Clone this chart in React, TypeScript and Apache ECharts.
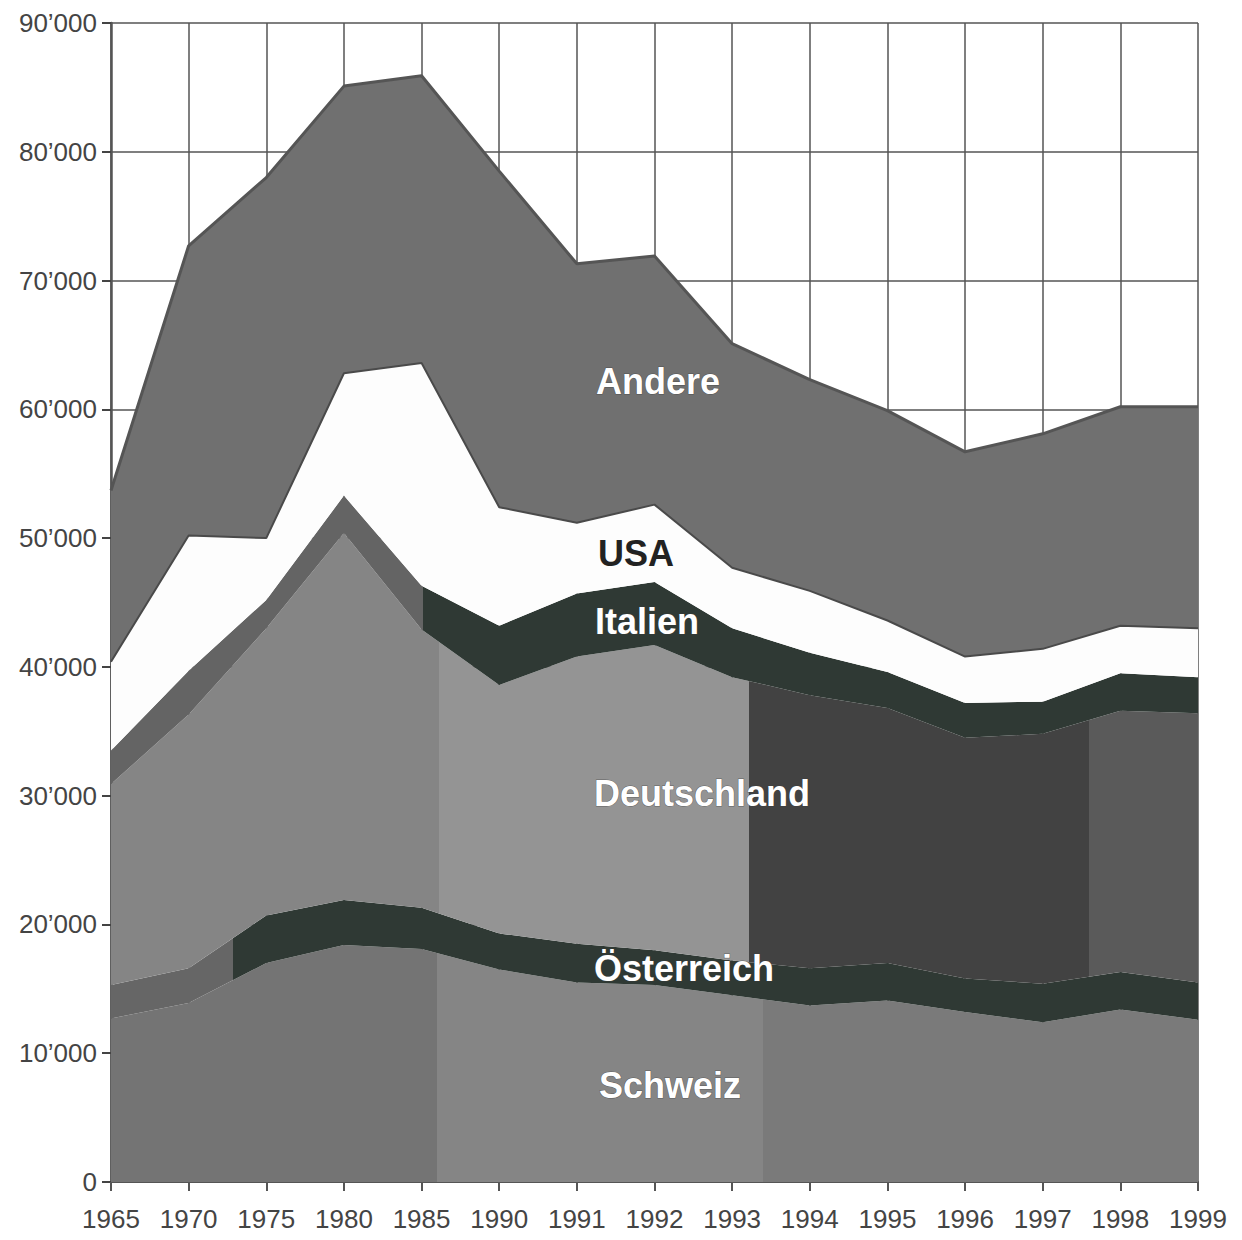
import React, { useEffect, useRef } from "react";
import * as echarts from "echarts";

const years = ["1965", "1970", "1975", "1980", "1985", "1990", "1991", "1992", "1993", "1994", "1995", "1996", "1997", "1998", "1999"];
const yTicks = [0, 10000, 20000, 30000, 40000, 50000, 60000, 70000, 80000, 90000];

const schweiz = [12700, 13900, 17000, 18400, 18100, 16500, 15500, 15300, 14500, 13700, 14100, 13200, 12400, 13400, 12600];
const oesterreich = [2600, 2700, 3700, 3500, 3200, 2800, 3000, 2700, 2700, 2900, 2900, 2600, 3000, 2900, 2900];
const deutschland = [15600, 19700, 22300, 28500, 21600, 19300, 22300, 23700, 22000, 21200, 19800, 18700, 19400, 20300, 20900];
const italien = [2600, 3400, 2200, 2900, 3400, 4600, 4900, 4900, 3800, 3300, 2800, 2700, 2500, 2900, 2800];
const usa = [6900, 10500, 4800, 9500, 17300, 9200, 5500, 6000, 4700, 4800, 4000, 3600, 4100, 3700, 3800];
const andere = [13300, 22500, 28000, 22300, 22300, 26100, 20100, 19300, 17400, 16400, 16300, 15900, 16700, 17000, 17200];

const fmt = (v: number) => {
  if (v === 0) return "0";
  const t = Math.floor(v / 1000);
  return `${t}\u2019000`;
};

function hardGradient(stops: [number, string][]) {
  const cs: { offset: number; color: string }[] = [];
  for (let i = 0; i < stops.length; i++) {
    const [off, col] = stops[i];
    const next = i + 1 < stops.length ? stops[i + 1][0] : 1;
    cs.push({ offset: off, color: col });
    cs.push({ offset: next, color: col });
  }
  return new echarts.graphic.LinearGradient(0, 0, 1, 0, cs);
}

export default function App() {
  const ref = useRef<HTMLDivElement>(null);
  useEffect(() => {
    if (!ref.current) return;
    const chart = echarts.init(ref.current, undefined, { renderer: "svg" });
    const font = '"Liberation Sans", Arial, Helvetica, sans-serif';
    const area = (name: string, data: number[], color: any, line?: any) => ({
      name,
      type: "line",
      stack: "total",
      data,
      symbol: "none",
      smooth: false,
      lineStyle: line || { width: 0 },
      areaStyle: { color, opacity: 1 },
      itemStyle: { color: "#666" },
      z: 2,
    });
    const labelStyle = (text: string, x: number, y: number, fill: string) => ({
      type: "text",
      x,
      y,
      z: 100,
      style: {
        text,
        fill,
        font: `bold 36px ${font}`,
        textAlign: "center",
        textVerticalAlign: "middle",
        align: "center",
        verticalAlign: "middle",
        stroke: fill === "#ffffff" ? "rgba(60,60,60,0.6)" : undefined,
        lineWidth: fill === "#ffffff" ? 1 : 0,
      },
    });
    chart.setOption({
      animation: false,
      backgroundColor: "#ffffff",
      grid: { left: 111, right: 44, top: 23, bottom: 58, containLabel: false },
      xAxis: {
        type: "category",
        data: years,
        boundaryGap: false,
        axisLine: { show: true, lineStyle: { color: "#555", width: 2 } },
        axisTick: { show: true, length: 9, lineStyle: { color: "#555", width: 2 } },
        axisLabel: { color: "#444", fontSize: 26, fontFamily: font, margin: 24, interval: 0 },
        splitLine: { show: true, lineStyle: { color: "#555", width: 1.5 } },
      },
      yAxis: {
        type: "value",
        min: 0,
        max: 90000,
        interval: 10000,
        axisLine: { show: true, lineStyle: { color: "#555", width: 2.5 } },
        axisTick: { show: true, length: 9, lineStyle: { color: "#444", width: 2 } },
        axisLabel: { color: "#444", fontSize: 26, fontFamily: font, margin: 14, formatter: (v: number) => (yTicks.includes(v) ? fmt(v) : "") },
        splitLine: { show: true, lineStyle: { color: "#555", width: 1.5 } },
      },
      series: [
        area("Schweiz", schweiz, hardGradient([[0, "#747474"], [0.3, "#858585"], [0.6, "#7a7a7a"]])),
        area("Österreich", oesterreich, hardGradient([[0, "#666666"], [0.112, "#2f3934"]])),
        area("Deutschland", deutschland, hardGradient([[0, "#858585"], [0.302, "#949494"], [0.587, "#424242"], [0.9, "#5a5a5a"]])),
        area("Italien", italien, hardGradient([[0, "#646464"], [0.287, "#2f3934"]])),
        area("USA", usa, "#fdfdfd", { width: 2, color: "#4a4a4a" }),
        area("Andere", andere, "#707070", { width: 3, color: "#555555" }),
      ],
      graphic: [
        labelStyle("Andere", 658, 381, "#ffffff"),
        labelStyle("USA", 636, 553, "#222222"),
        labelStyle("Italien", 647, 621, "#ffffff"),
        labelStyle("Deutschland", 702, 793, "#ffffff"),
        labelStyle("Österreich", 684, 968, "#ffffff"),
        labelStyle("Schweiz", 670, 1085, "#ffffff"),
      ],
    });
    return () => chart.dispose();
  }, []);
  return <div ref={ref} style={{ position: "fixed", left: 0, top: 0, width: 1242, height: 1240 }} />;
}
